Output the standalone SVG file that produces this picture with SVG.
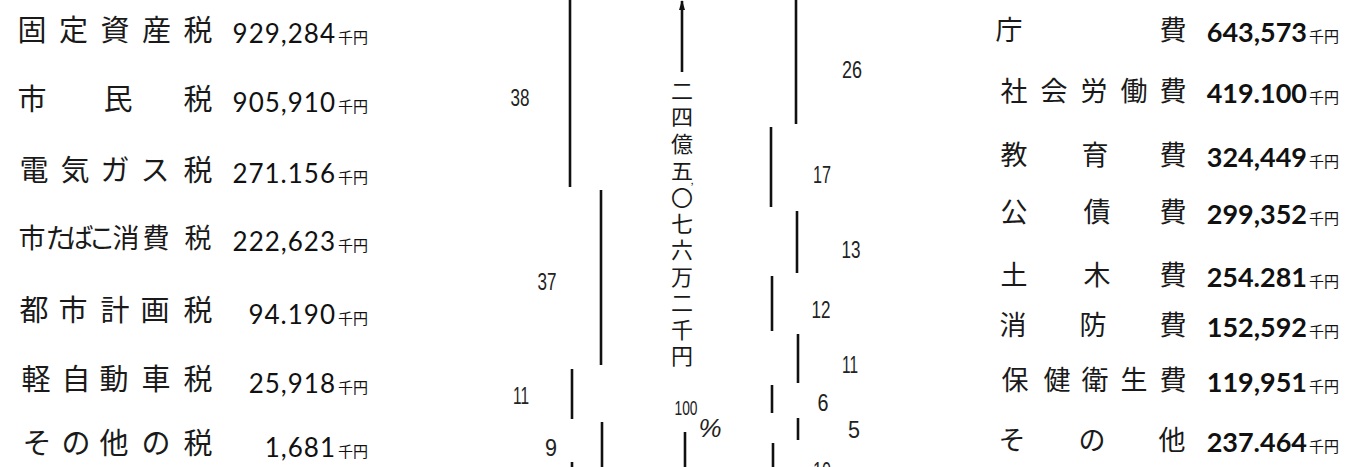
<svg xmlns="http://www.w3.org/2000/svg" width="1345" height="467" viewBox="0 0 1345 467">
<defs>
<style>
.k{font-family:"Noto Sans CJK JP",sans-serif;font-size:29px;fill:#1a1a1a;text-anchor:middle}
.kr{font-family:"Noto Sans CJK JP",sans-serif;font-size:27px;fill:#1a1a1a;text-anchor:middle}
.n{font-family:Lato,"Liberation Sans",sans-serif;font-size:26px;fill:#111;text-anchor:end;letter-spacing:1px}
.nr{font-family:Lato,"Liberation Sans",sans-serif;font-size:27px;font-weight:bold;fill:#111;text-anchor:end}
.u{font-family:"Noto Sans CJK JP",sans-serif;font-size:15px;fill:#111}
.v{font-family:"Noto Sans CJK JP",sans-serif;font-size:22px;fill:#1a1a1a;text-anchor:middle}
.p{font-family:"Liberation Sans",sans-serif;font-size:23px;fill:#222;text-anchor:middle}
.bar{stroke:#111;stroke-width:2.6;fill:none}
</style>
<marker id="ah" viewBox="0 0 10 6" refX="9" refY="3" markerWidth="10" markerHeight="6" orient="auto" markerUnits="userSpaceOnUse">
<path d="M0 0 L10 3 L0 6 Z" fill="#111"/>
</marker>
</defs>
<rect width="1345" height="467" fill="#fff"/>

<g id="rev-kotei"><text class="k" x="32 73.5 115 156.5 198" y="41">固定資産税</text><text class="n" x="336" y="43">929,284</text><text class="u" x="338" y="43">千円</text></g>
<g id="rev-shimin"><text class="k" x="32 118 198" y="110">市民税</text><text class="n" x="336" y="112">905,910</text><text class="u" x="338" y="112">千円</text></g>
<g id="rev-denki"><text class="k" x="34 75 115 155 198" y="181">電気ガス税</text><text class="n" x="336" y="183">271.156</text><text class="u" x="338" y="183">千円</text></g>
<g id="rev-tabako"><text class="k" x="32 59 80 102 126 156 198" y="248" style="font-size:27px">市たばこ消費税</text><text class="n" x="336" y="251">222,623</text><text class="u" x="338" y="251">千円</text></g>
<g id="rev-toshi"><text class="k" x="34 73 115 155 198" y="321">都市計画税</text><text class="n" x="336" y="324">94.190</text><text class="u" x="338" y="324">千円</text></g>
<g id="rev-kei"><text class="k" x="36 76 114 156 198" y="390">軽自動車税</text><text class="n" x="336" y="393">25,918</text><text class="u" x="338" y="393">千円</text></g>
<g id="rev-sonota"><text class="k" x="37 76 114 156 198" y="454">その他の税</text><text class="n" x="336" y="457">1,681</text><text class="u" x="338" y="457">千円</text></g>

<g id="exp-cho"><text class="kr" x="1009 1173" y="40">庁費</text><text class="nr" x="1307" y="42">643,573</text><text class="u" x="1309" y="42">千円</text></g>
<g id="exp-shakai"><text class="kr" x="1014 1054 1094 1134 1173" y="101">社会労働費</text><text class="nr" x="1307" y="103">419.100</text><text class="u" x="1309" y="103">千円</text></g>
<g id="exp-kyoiku"><text class="kr" x="1014 1095 1173" y="165">教育費</text><text class="nr" x="1307" y="167">324,449</text><text class="u" x="1309" y="167">千円</text></g>
<g id="exp-kosai"><text class="kr" x="1014 1097 1173" y="222">公債費</text><text class="nr" x="1307" y="224">299,352</text><text class="u" x="1309" y="224">千円</text></g>
<g id="exp-doboku"><text class="kr" x="1014 1097 1173" y="285">土木費</text><text class="nr" x="1307" y="287">254.281</text><text class="u" x="1309" y="287">千円</text></g>
<g id="exp-shobo"><text class="kr" x="1013 1093 1173" y="335">消防費</text><text class="nr" x="1307" y="337">152,592</text><text class="u" x="1309" y="337">千円</text></g>
<g id="exp-hoken"><text class="kr" x="1015 1057 1095 1134 1173" y="390">保健衛生費</text><text class="nr" x="1307" y="392">119,951</text><text class="u" x="1309" y="392">千円</text></g>
<g id="exp-sonota"><text class="kr" x="1012 1092 1172" y="450">その他</text><text class="nr" x="1307" y="452">237.464</text><text class="u" x="1309" y="452">千円</text></g>

<g id="total">
<text class="v" x="682" y="99">二</text>
<text class="v" x="682" y="125">四</text>
<text class="v" x="682" y="152">億</text>
<text class="v" x="682" y="179">五</text>
<text class="v" x="682" y="206">〇</text>
<text class="v" x="692" y="191" style="font-size:11px">’</text>
<text class="v" x="682" y="232">七</text>
<text class="v" x="682" y="258">六</text>
<text class="v" x="682" y="285">万</text>
<text class="v" x="682" y="311">二</text>
<text class="v" x="682" y="338">千</text>
<text class="v" x="682" y="364">円</text>
<text class="p" x="686" y="415" textLength="23" lengthAdjust="spacingAndGlyphs" style="font-size:20px">100</text>
<text class="p" x="710" y="437" style="font-style:italic;font-size:26px">%</text>
</g>

<g id="connectors">
<line class="bar" x1="682" y1="72" x2="682" y2="1" stroke-width="1.8" marker-end="url(#ah)"/>
</g>

<g id="bars">
<line class="bar" x1="570" y1="0" x2="570" y2="187"/>
<line class="bar" x1="601" y1="190" x2="601" y2="365"/>
<line class="bar" x1="572" y1="369" x2="572" y2="419"/>
<line class="bar" x1="602" y1="422" x2="602" y2="467"/>
<line class="bar" x1="572" y1="462" x2="572" y2="467"/>
<line class="bar" x1="685" y1="432" x2="685" y2="467" stroke-width="2"/>
<line class="bar" x1="796" y1="0" x2="796" y2="124"/>
<line class="bar" x1="771" y1="127" x2="771" y2="207"/>
<line class="bar" x1="797" y1="211" x2="797" y2="273"/>
<line class="bar" x1="772" y1="276" x2="772" y2="331"/>
<line class="bar" x1="798" y1="334" x2="798" y2="383"/>
<line class="bar" x1="772" y1="385" x2="772" y2="413"/>
<line class="bar" x1="798" y1="418" x2="798" y2="440"/>
<line class="bar" x1="773" y1="443" x2="773" y2="467"/>
</g>

<g id="percents">
<text class="p" x="520" y="106" textLength="19" lengthAdjust="spacingAndGlyphs">38</text>
<text class="p" x="547" y="290" textLength="19" lengthAdjust="spacingAndGlyphs">37</text>
<text class="p" x="521" y="404" textLength="16" lengthAdjust="spacingAndGlyphs">11</text>
<text class="p" x="551" y="456" textLength="12" lengthAdjust="spacingAndGlyphs">9</text>
<text class="p" x="852" y="78" textLength="20" lengthAdjust="spacingAndGlyphs">26</text>
<text class="p" x="822" y="183" textLength="18" lengthAdjust="spacingAndGlyphs">17</text>
<text class="p" x="851" y="258" textLength="19" lengthAdjust="spacingAndGlyphs">13</text>
<text class="p" x="821" y="318" textLength="19" lengthAdjust="spacingAndGlyphs">12</text>
<text class="p" x="850" y="373" textLength="16" lengthAdjust="spacingAndGlyphs">11</text>
<text class="p" x="823" y="411" textLength="11" lengthAdjust="spacingAndGlyphs">6</text>
<text class="p" x="854" y="438" textLength="12" lengthAdjust="spacingAndGlyphs">5</text>
<text class="p" x="822" y="479" textLength="18" lengthAdjust="spacingAndGlyphs">10</text>
</g>
</svg>
